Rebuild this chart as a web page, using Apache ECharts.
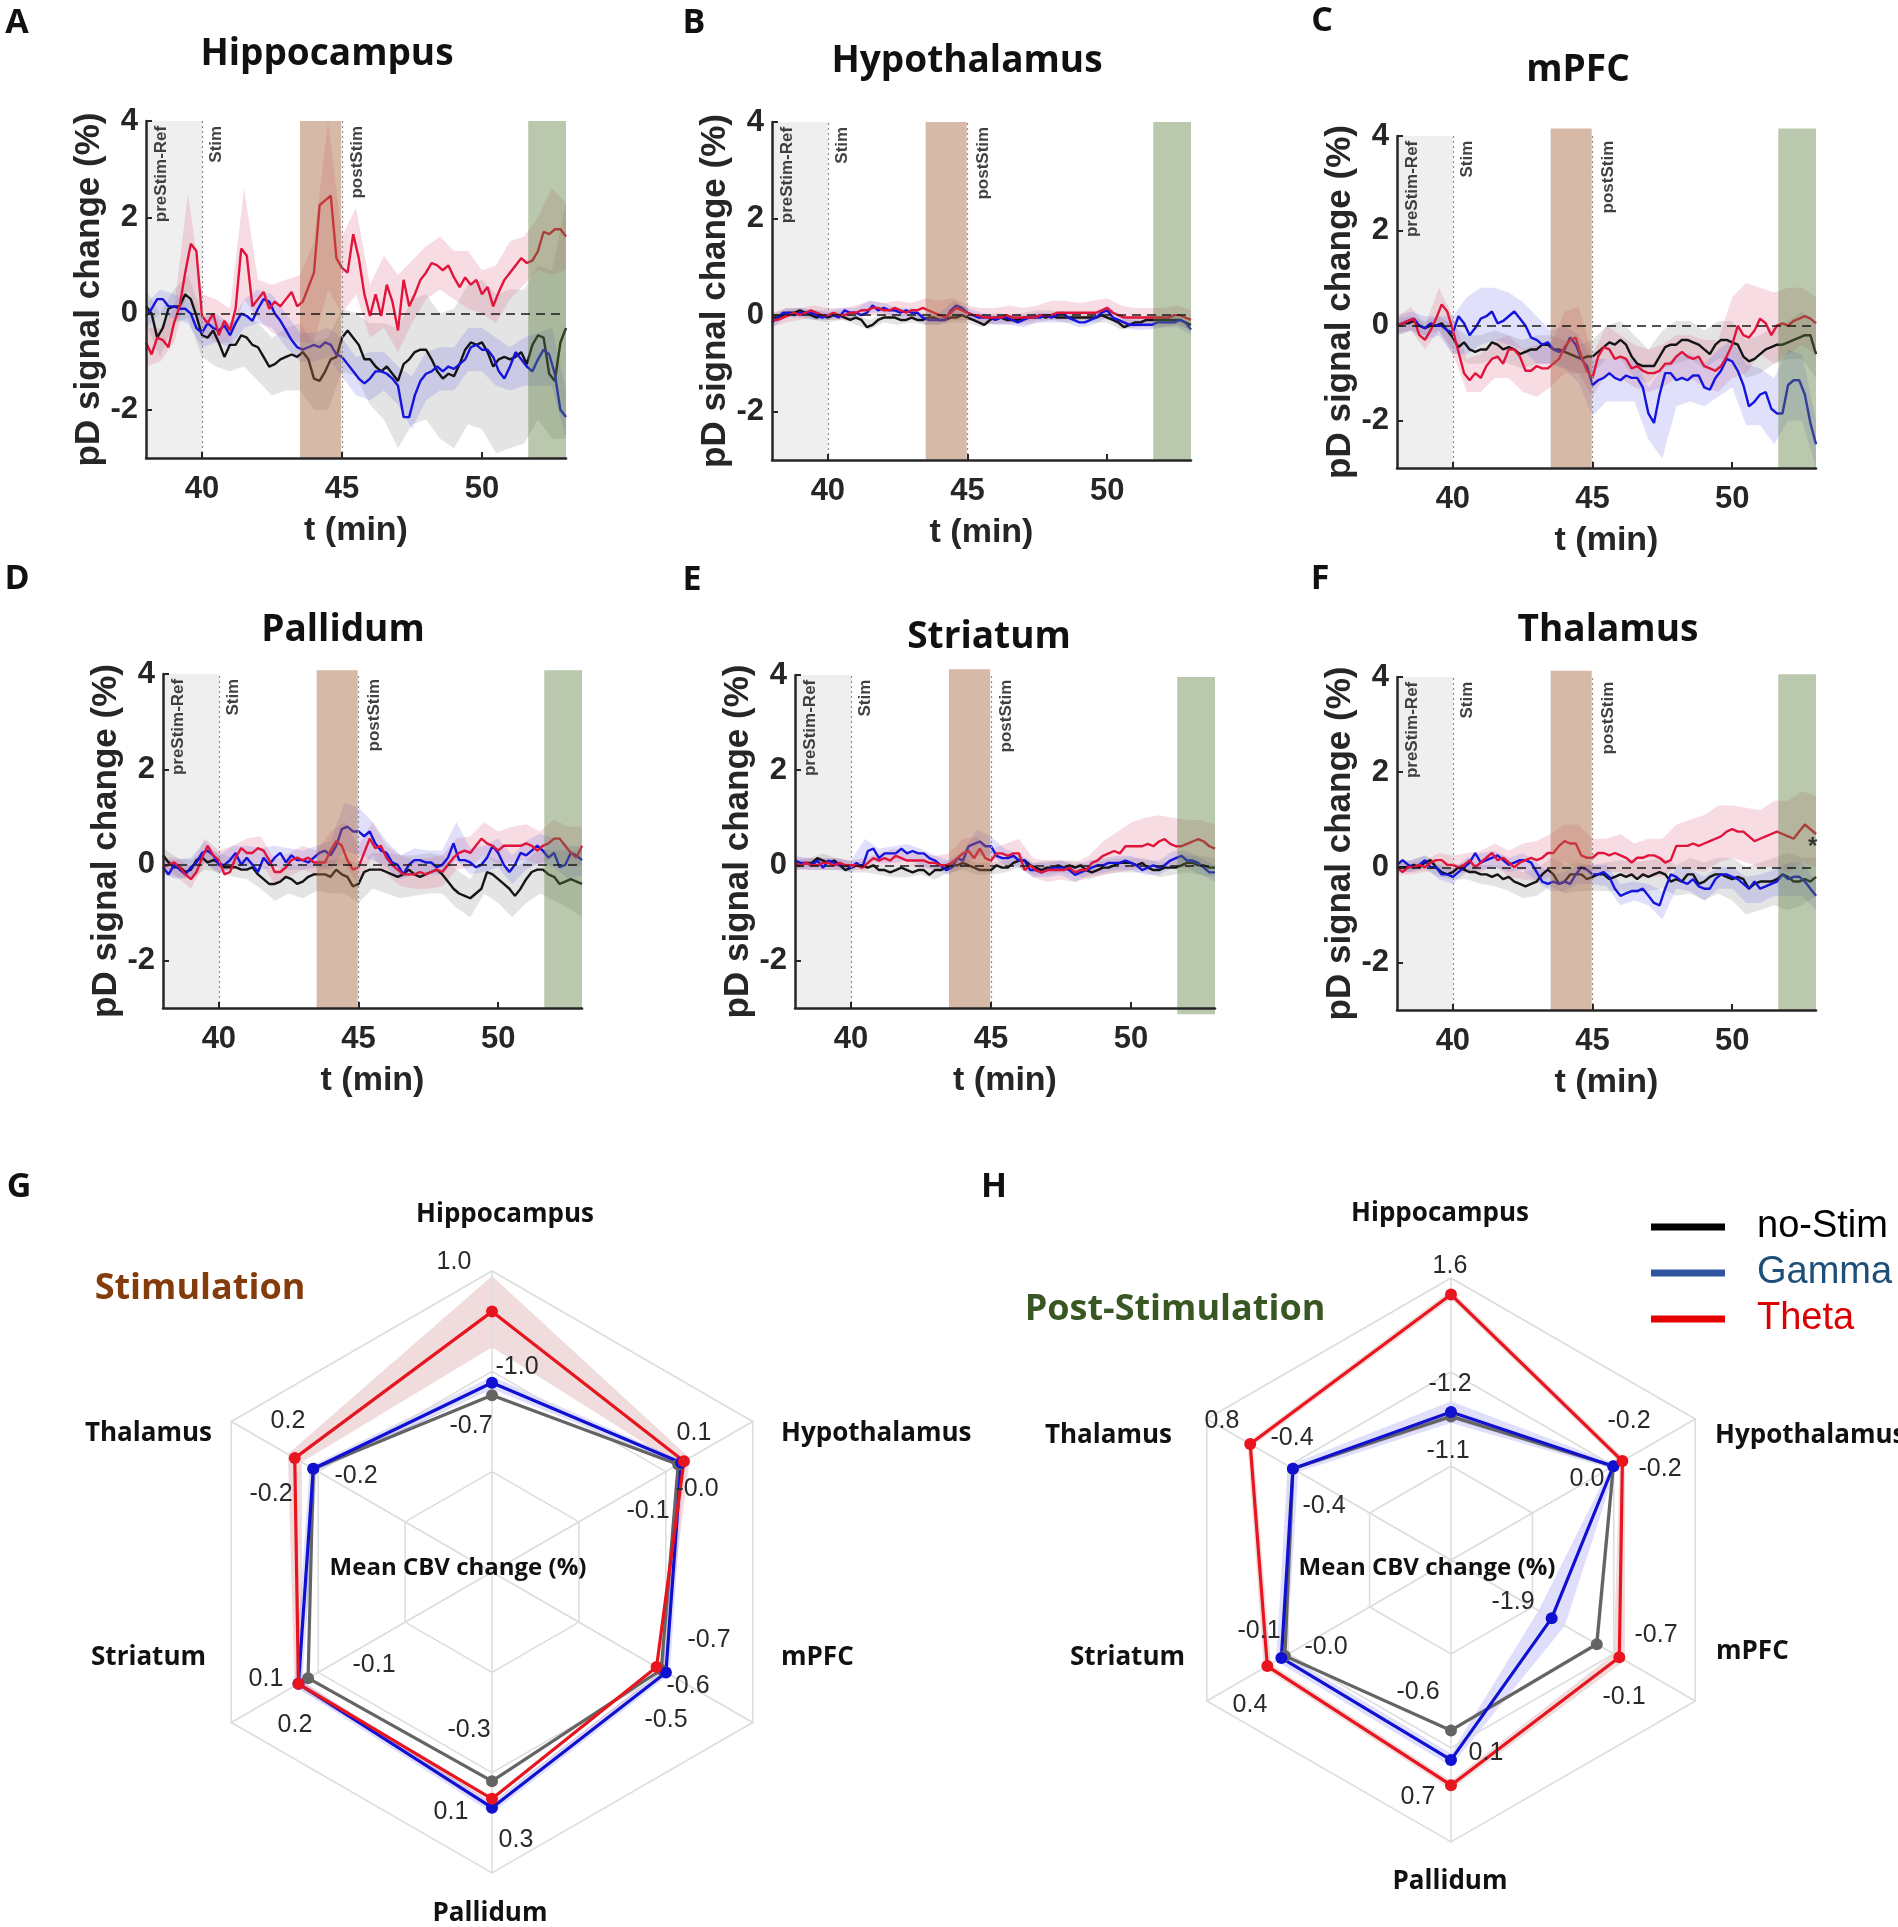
<!doctype html>
<html>
<head>
<meta charset="UTF-8">
<script src="https://cdn.jsdelivr.net/npm/echarts@6.0.0/dist/echarts.min.js"></script>
<style>
  html, body { margin: 0; padding: 0; background: #fff; }
  #main { width: 1898px; height: 1927px; }
</style>
</head>
<body>
<div id="main"></div>
<script type="text/javascript">

// time axis of the traces (min) and of the SEM envelopes
var t = [38,38.2,38.4,38.6,38.8,39,39.2,39.4,39.6,39.8,40,40.2,40.4,40.6,40.8,41,41.2,41.4,41.6,41.8,
  42,42.2,42.4,42.6,42.8,43,43.2,43.4,43.6,43.8,44,44.2,44.4,44.6,44.8,45,45.2,45.4,45.6,45.8,
  46,46.2,46.4,46.6,46.8,47,47.2,47.4,47.6,47.8,48,48.2,48.4,48.6,48.8,49,49.2,49.4,49.6,49.8,
  50,50.2,50.4,50.6,50.8,51,51.2,51.4,51.6,51.8,52,52.2,52.4,52.6,52.8,53];
var tb = [38,38.5,39,39.5,40,40.5,41,41.5,42,42.5,43,43.5,44,44.5,45,45.5,46,46.5,47,47.5,48,48.5,49,49.5,50,50.5,51,51.5,52,52.5,53];
var xTicks = [40, 45, 50];
var yTicks = [-2, 0, 2, 4];

// A Hippocampus
var hipNo = [0.15,0,-0.5,-0.3,0.1,0.15,0.15,0.4,0.3,-0.05, -0.45,-0.5,-0.35,-0.6,-0.9,-0.65,-0.65,-0.45,-0.5,-0.65,
  -0.7,-0.9,-1.1,-1.05,-0.95,-0.9,-0.85,-0.9,-0.8,-0.95, -1.35,-1.4,-1.2,-0.95,-0.9,-0.5,-0.35,-0.5,-0.65,-0.95,
  -0.95,-1.1,-1.2,-1.1,-1.25,-1.4,-1.05,-0.95,-0.8,-0.75, -0.75,-0.95,-1.2,-1.35,-1.25,-1.3,-1.05,-0.75,-0.6,-0.65,
  -0.6,-0.8,-1.1,-0.95,-0.9,-0.95,-0.9,-0.8,-1.05,-0.65, -0.45,-0.5,-1.25,-1.4,-0.6,-0.3];
var hipGa = [-0.05,0.1,0.3,0.3,0.15,0.15,0.1,0.1,0,-0.3, -0.4,-0.2,-0.3,-0.35,-0.25,-0.45,-0.2,0,-0.05,-0.15,
  0.1,0.3,0.25,0,-0.15,-0.35,-0.55,-0.7,-0.75,-0.7, -0.65,-0.7,-0.6,-0.65,-0.85,-0.9,-1.05,-1.2,-1.35,-1.45,
  -1.35,-1.2,-1.2,-1.25,-1.35,-1.5,-2.15,-2.15,-1.7,-1.4, -1.25,-1.2,-1.1,-1.2,-1.1,-1.15,-1.05,-0.95,-0.7,-0.65,
  -0.75,-0.75,-0.9,-1.2,-1.35,-1.1,-0.8,-0.95,-1.1,-1.2, -0.95,-0.75,-0.85,-1.25,-2,-2.15];
var hipTh = [-0.6,-0.85,-0.5,-0.55,-0.7,-0.2,0.15,0.85,1.45,1.3, -0.05,-0.2,0,-0.45,-0.15,-0.35,0.1,1.35,1.2,0.15,
  0.3,0.45,0.1,0.25,0.15,0.3,0.45,0.15,0.25,0.55, 0.85,2.25,2.35,2.45,1.15,0.95,0.85,1.65,1.15,0.4,
  -0.05,0.4,-0.05,0.6,0.25,-0.35,0.7,0.15,0.4,0.7, 0.85,1.05,1,0.9,1,0.75,0.55,0.75,0.6,0.7,
  0.4,0.55,0.15,0.45,0.7,0.85,1,1.15,1.05,1.1, 1.3,1.7,1.65,1.75,1.75,1.6];
var hipNoBand = [[-0.2,0.5],[-0.9,0],[-0.2,0.5],[-0.1,0.8],[-0.9,0],[-1.1,-0.1],[-1.2,-0.2],[-1.1,0],[-1.4,-0.2],[-1.7,-0.5],
  [-1.6,-0.3],[-1.6,-0.2],[-2,-0.6],[-2,-0.5],[-1.2,0.1],[-1.3,0],[-1.9,-0.2],[-2.2,-0.2],[-2.8,-0.3],[-2.3,0.3],
  [-2.2,0.4],[-2.6,0],[-2.8,0.1],[-2.3,0.6],[-2.4,0.7],[-2.9,0.4],[-2.8,0.5],[-2.7,0.5],[-2.2,1],[-2.6,0.9],[-2.6,2.3]];
var hipGaBand = [[-0.3,0.2],[0,0.5],[-0.1,0.4],[-0.2,0.3],[-0.7,-0.1],[-0.6,0],[-0.7,-0.2],[-0.3,0.3],[-0.2,0.5],[-0.3,0.4],
  [-0.7,0],[-1,-0.4],[-1,-0.4],[-0.9,-0.3],[-1.3,-0.5],[-1.7,-0.9],[-1.8,-0.8],[-1.6,-0.8],[-1.9,-1.1],[-2.4,-1.3],
  [-1.8,-0.8],[-1.6,-0.7],[-1.6,-0.7],[-1.2,-0.3],[-1.2,-0.3],[-1.5,-0.5],[-1.6,-0.7],[-1.5,-0.5],[-1.5,-0.4],[-1.5,-0.3],[-2.6,-1.6]];
var hipThBand = [[-1.1,-0.3],[-1,-0.3],[-0.6,0.1],[0.5,2.5],[-0.4,0.4],[-0.6,0.3],[-0.6,0.1],[0.3,2.6],[-0.1,0.7],[-0.4,0.6],
  [-0.5,0.7],[-0.6,0.8],[-0.6,1.5],[0.5,4],[0,1.6],[0.4,2.2],[-0.5,0.6],[-0.3,1.2],[-0.8,0.8],[-0.2,1.1],
  [0.3,1.4],[0.5,1.6],[0.3,1.3],[0.1,1.3],[0,0.9],[-0.2,1],[0.3,1.5],[0.6,1.6],[0.9,2],[0.8,2.6],[0.9,2.3]];

// B Hypothalamus
var hypNo = [-0.05,-0.05,0,0.05,0.05,0.1,0.05,0,-0.05,0, -0.05,0,0,-0.05,-0.1,-0.05,-0.1,-0.25,-0.2,-0.1,
  -0.05,-0.05,-0.05,-0.1,-0.1,-0.05,-0.1,-0.1,-0.05,-0.05, -0.1,-0.1,-0.05,-0.05,0,-0.05,-0.1,-0.15,-0.2,-0.1,
  -0.05,-0.05,-0.1,-0.1,-0.1,-0.05,-0.05,-0.05,0,-0.05, 0,-0.05,-0.05,-0.05,-0.05,-0.05,-0.05,-0.05,-0.05,0,
  -0.05,-0.1,-0.15,-0.25,-0.2,-0.15,-0.15,-0.1,-0.1,-0.1, -0.1,-0.1,-0.1,-0.1,-0.15,-0.2];
var hypGa = [-0.15,-0.05,0.05,0.05,0,0.05,0.05,0.05,0,-0.05, 0,0,-0.05,0.1,0.05,0.05,0,0.05,0.2,0.1,
  0.15,0.1,0.1,0.05,0.1,0.05,0.05,-0.05,-0.1,-0.1, -0.1,-0.1,0.1,0.2,0.15,0.05,0,-0.05,-0.05,-0.05,
  -0.1,-0.05,-0.05,-0.1,-0.15,-0.1,-0.05,-0.05,-0.05,0, -0.05,0,0.05,-0.05,-0.1,-0.15,-0.15,-0.1,-0.05,0.05,
  0.1,-0.05,-0.1,-0.15,-0.2,-0.2,-0.2,-0.2,-0.2,-0.15, -0.15,-0.15,-0.15,-0.1,-0.15,-0.3];
var hypTh = [-0.1,-0.1,-0.05,0,0.05,0,0.05,0.1,0.05,0, 0,0.05,0,0,0.05,0.05,0.1,0.1,0.15,0.15,
  0.1,0.1,0.15,0.1,0.05,0.1,0.1,0.15,0.1,0.05, 0,-0.05,0.05,0.15,0.1,0.05,0,0,-0.05,-0.05,
  -0.05,-0.05,0,-0.05,-0.05,-0.05,-0.05,-0.05,0,0, 0,0.05,0.05,0.05,0.05,0.05,0.05,0.05,0.05,0.1,
  0.15,0.05,0,-0.05,-0.05,-0.05,-0.05,-0.05,-0.05,-0.05, -0.05,-0.05,0,0,-0.05,-0.1];
var hypNoBand = [[-0.15,0.05],[-0.05,0.1],[0,0.15],[-0.1,0.1],[-0.15,0.05],[-0.1,0.1],[-0.2,0],[-0.3,-0.1],[-0.15,0.05],[-0.2,0],
  [-0.15,0.05],[-0.2,0],[-0.2,0],[-0.15,0.05],[-0.15,0.05],[-0.25,-0.05],[-0.15,0.05],[-0.2,0],[-0.15,0.05],[-0.1,0.1],
  [-0.1,0.1],[-0.15,0.05],[-0.15,0.05],[-0.15,0.05],[-0.15,0.05],[-0.3,-0.1],[-0.25,-0.05],[-0.2,0],[-0.2,0],[-0.2,0],[-0.3,-0.1]];
var hypGaBand = [[-0.25,-0.05],[-0.05,0.15],[-0.05,0.15],[-0.1,0.1],[-0.1,0.1],[-0.05,0.15],[-0.05,0.15],[0.05,0.3],[0.05,0.25],[-0.05,0.15],
  [-0.05,0.15],[-0.2,0],[-0.2,0.05],[0,0.3],[-0.05,0.15],[-0.15,0.05],[-0.2,0],[-0.2,0],[-0.25,0],[-0.15,0.05],
  [-0.15,0.05],[-0.15,0.05],[-0.25,-0.05],[-0.2,0],[-0.05,0.2],[-0.25,-0.05],[-0.3,-0.1],[-0.3,-0.1],[-0.25,-0.05],[-0.25,0],[-0.4,-0.2]];
var hypThBand = [[-0.25,0.05],[-0.15,0.15],[-0.1,0.15],[-0.05,0.2],[-0.1,0.15],[-0.1,0.15],[-0.05,0.2],[0,0.3],[0,0.25],[0,0.3],
  [-0.05,0.25],[0,0.35],[-0.15,0.3],[-0.1,0.35],[-0.1,0.2],[-0.15,0.15],[-0.2,0.15],[-0.15,0.2],[-0.2,0.15],[-0.15,0.2],
  [-0.1,0.3],[-0.1,0.3],[-0.1,0.25],[-0.1,0.3],[-0.05,0.35],[-0.25,0.2],[-0.25,0.15],[-0.25,0.15],[-0.25,0.15],[-0.2,0.2],[-0.3,0.1]];

// C mPFC
var pfcNo = [0,0.05,0.05,0.1,0,-0.05,0,0,0.05,-0.1, -0.25,-0.45,-0.35,-0.5,-0.55,-0.5,-0.5,-0.35,-0.4,-0.5,
  -0.45,-0.5,-0.6,-0.55,-0.5,-0.5,-0.4,-0.4,-0.5,-0.5, -0.55,-0.6,-0.65,-0.7,-0.65,-0.65,-0.55,-0.45,-0.35,-0.4,
  -0.3,-0.4,-0.65,-0.8,-0.85,-0.85,-0.85,-0.65,-0.45,-0.4, -0.4,-0.3,-0.3,-0.35,-0.4,-0.5,-0.6,-0.4,-0.3,-0.3,
  -0.35,-0.4,-0.65,-0.75,-0.7,-0.6,-0.5,-0.45,-0.4,-0.4, -0.35,-0.3,-0.25,-0.2,-0.2,-0.6];
var pfcGa = [0,0.05,0.1,0.15,0,-0.05,0.05,0,0,-0.1, -0.15,0.2,0.05,-0.2,-0.05,0.15,0.2,0.3,0.05,0.1,
  0.2,0.3,0.15,0,-0.25,-0.3,-0.4,-0.35,-0.5,-0.55, -0.5,-0.25,-0.4,-0.7,-0.85,-1.25,-1.15,-1.1,-1,-1.1,
  -1.15,-1.05,-1.1,-1.1,-1.3,-1.85,-2.05,-1.45,-1,-1, -1.15,-1.1,-1.15,-1.05,-1.05,-1.3,-1.35,-1.1,-0.95,-0.7,
  -0.75,-0.95,-1.25,-1.7,-1.6,-1.45,-1.4,-1.75,-1.85,-1.85, -1.25,-1.15,-1.15,-1.45,-2.05,-2.5];
var pfcTh = [0,0.05,0.1,0.15,-0.2,-0.3,-0.1,0.15,0.45,0.3, -0.1,-0.55,-1,-1.15,-1,-1.1,-0.85,-0.7,-0.65,-0.8,
  -0.5,-0.5,-0.65,-0.95,-0.95,-0.85,-0.9,-0.9,-0.8,-0.7, -0.45,-0.3,-0.25,-0.65,-0.95,-1.1,-0.65,-0.45,-0.5,-0.7,
  -0.65,-0.7,-0.9,-0.85,-0.95,-1,-1,-0.95,-0.8,-0.8, -0.65,-0.55,-0.65,-0.7,-0.65,-0.85,-0.9,-0.95,-0.85,-0.65,
  -0.4,0,-0.2,-0.25,-0.1,0.15,0.05,-0.2,0,0.05, 0,0.1,0.15,0.2,0.15,0.05];
var pfcNoBand = [[-0.15,0.15],[-0.1,0.2],[-0.2,0.1],[-0.1,0.2],[-0.5,0],[-0.8,-0.2],[-0.8,-0.2],[-0.7,-0.1],[-0.8,-0.2],[-0.9,-0.3],
  [-0.8,-0.2],[-0.8,-0.2],[-0.9,-0.3],[-1,-0.4],[-1,-0.3],[-0.7,0],[-0.7,0.1],[-1.1,-0.2],[-1.2,-0.5],[-0.9,-0.1],
  [-0.8,0.1],[-0.7,0.1],[-0.9,-0.1],[-0.7,0.1],[-0.7,0.1],[-1.1,-0.3],[-1,-0.2],[-0.8,0],[-0.7,0.1],[-0.7,0.3],[-1.1,0]];
var pfcGaBand = [[-0.2,0.2],[-0.1,0.3],[-0.3,0.2],[-0.2,0.2],[-0.6,0.2],[-0.6,0.6],[-0.4,0.8],[-0.3,0.8],[-0.4,0.7],[-0.5,0.5],
  [-0.8,0.2],[-0.8,-0.1],[-0.9,0],[-1.2,-0.2],[-1.9,-0.7],[-1.6,-0.7],[-1.6,-0.7],[-1.6,-0.7],[-2.4,-1.3],[-2.8,-0.9],
  [-1.7,-0.6],[-1.6,-0.6],[-1.7,-0.8],[-1.5,-0.5],[-1.3,-0.3],[-2.1,-0.8],[-2.1,-0.9],[-2.5,-1.1],[-2,-0.5],[-2,-0.6],[-3,-2]];
var pfcThBand = [[-0.2,0.2],[-0.1,0.4],[-0.5,0],[-0.1,0.8],[-0.6,0.2],[-1.4,-0.7],[-1.4,-0.6],[-1.1,-0.3],[-1.1,-0.2],[-1.4,-0.5],
  [-1.5,-0.4],[-1.3,-0.4],[-1,0.3],[-1,0.4],[-1.5,-0.6],[-1,0],[-1.1,-0.2],[-1.3,-0.4],[-1.4,-0.5],[-1.3,-0.4],
  [-1.1,-0.2],[-1.1,-0.2],[-1.3,-0.3],[-1.4,-0.3],[-1.1,0.6],[-1,0.9],[-0.6,0.8],[-0.8,0.7],[-0.6,0.8],[-0.4,0.8],[-0.6,0.6]];

// D Pallidum
var palNo = [0.2,0.05,-0.05,-0.05,-0.15,-0.1,0.1,0.15,0.05,0.1, 0.05,-0.05,-0.05,-0.05,-0.1,-0.1,-0.05,-0.2,-0.3,-0.4,
  -0.4,-0.35,-0.25,-0.3,-0.4,-0.35,-0.25,-0.2,-0.2,-0.2, -0.25,-0.1,-0.2,-0.25,-0.45,-0.4,-0.15,-0.1,-0.1,-0.1,
  -0.15,-0.2,-0.25,-0.2,-0.1,-0.2,-0.25,-0.2,-0.15,-0.1, -0.2,-0.35,-0.5,-0.6,-0.65,-0.7,-0.6,-0.5,-0.15,-0.2,
  -0.3,-0.4,-0.5,-0.65,-0.5,-0.3,-0.15,-0.1,-0.1,-0.2, -0.25,-0.4,-0.35,-0.3,-0.35,-0.4];
var palGa = [-0.05,-0.2,0,-0.1,-0.2,-0.05,0.05,0.25,0.3,0.2, 0,0,0.1,0.25,0,0.15,0,-0.15,0.15,0,
  0.15,0.25,0.05,0.2,0.1,0.1,0.05,0.15,0.25,0.3, 0.2,0.4,0.75,0.8,0.7,0.7,0.6,0.7,0.45,0.3,
  0.25,0.05,0,-0.2,0,0.1,0.1,0.05,0.05,-0.05, 0,0.15,0.45,0.1,0.1,0.05,-0.05,0,0.15,0.4,
  0.25,0,-0.15,0,0.25,0.2,0.3,0.4,0.3,0.15, 0.25,-0.05,0,0.25,0.2,0.1];
var palTh = [-0.05,0,0.05,-0.05,-0.2,-0.3,-0.15,0.15,0.4,0.2, 0.1,-0.2,-0.15,0.15,0.35,0.25,0.25,0.35,0.3,0.1,
  -0.15,-0.15,-0.05,0.1,0.15,0.1,0.15,0.05,0.05,0.05, 0.3,0.5,0.4,0.1,-0.1,-0.05,0.25,0.55,0.35,0.4,
  0.15,0,-0.1,-0.2,-0.2,-0.2,-0.15,-0.2,-0.15,-0.1, -0.15,0,0.15,0.25,0.3,0.25,0.4,0.55,0.45,0.4,
  0.3,0.4,0.4,0.4,0.4,0.45,0.4,0.3,0.4,0.45, 0.55,0.55,0.4,0.25,0.15,0.4];
var palNoBand = [[0,0.35],[-0.25,0.15],[-0.3,0.1],[-0.1,0.3],[-0.15,0.25],[-0.25,0.15],[-0.3,0.1],[-0.5,0],[-0.75,-0.1],[-0.6,0],
  [-0.7,0],[-0.55,0.1],[-0.6,0.1],[-0.6,0.15],[-0.8,0],[-0.5,0.25],[-0.6,0.25],[-0.7,0.2],[-0.65,0.2],[-0.6,0.25],
  [-0.6,0.2],[-0.9,-0.1],[-1.1,-0.3],[-0.6,0.2],[-0.8,0.1],[-1.1,-0.1],[-0.8,0.1],[-0.6,0.35],[-0.75,0.3],[-0.9,0.3],[-1.1,0.3]];
var palGaBand = [[-0.2,0.1],[-0.3,0.1],[-0.25,0.15],[0.05,0.5],[-0.2,0.2],[-0.05,0.4],[-0.1,0.4],[-0.1,0.35],[-0.05,0.4],[-0.1,0.35],
  [-0.1,0.3],[-0.05,0.4],[-0.1,0.5],[0.3,1.3],[0.2,1.2],[0.1,0.9],[-0.05,0.5],[-0.3,0.2],[-0.2,0.35],[-0.2,0.3],
  [-0.2,0.3],[0.1,0.9],[-0.2,0.35],[-0.15,0.4],[-0.05,0.55],[-0.4,0.2],[-0.1,0.5],[0.05,0.65],[-0.05,0.55],[-0.3,0.4],[-0.2,0.4]];
var palThBand = [[-0.2,0.15],[-0.25,0.15],[-0.5,-0.05],[0.05,0.55],[-0.15,0.3],[-0.1,0.4],[0,0.55],[0.05,0.6],[-0.4,0.1],[-0.25,0.25],
  [-0.1,0.4],[-0.2,0.3],[0,0.7],[0,0.9],[-0.4,0.4],[0.2,0.9],[-0.2,0.4],[-0.45,0.2],[-0.5,0.1],[-0.5,0.15],
  [-0.45,0.2],[-0.1,0.55],[-0.05,0.6],[0.2,0.9],[0,0.7],[0.05,0.8],[0.1,0.85],[0,0.7],[0.15,0.95],[-0.05,0.8],[0,0.8]];

// E Striatum
var strNo = [0,0,0.05,0.05,0.15,0.1,0.05,0.1,0,-0.1, -0.05,0,0,-0.05,0,-0.1,-0.1,-0.15,-0.1,-0.05,
  -0.1,-0.15,-0.1,-0.1,-0.2,-0.1,-0.1,-0.05,0,0, 0.05,0,-0.05,-0.1,-0.1,-0.1,0,-0.05,-0.05,0.05,
  0.1,0.1,0,-0.05,-0.1,-0.05,-0.05,0,-0.05,0, -0.05,0,-0.1,-0.15,-0.1,-0.05,-0.05,0,0.05,0.05,
  0.05,0,0.05,-0.05,-0.1,-0.1,-0.05,-0.05,-0.05,0, 0.05,0.05,0,0,-0.05,-0.05];
var strGa = [0.1,0.05,0.05,0,0.1,-0.05,0.1,0.05,0,0, -0.05,0.05,-0.05,0.3,0.35,0.15,0.25,0.25,0.25,0.35,
  0.25,0.3,0.25,0.25,0.15,0.1,0,-0.1,-0.05,0.15, 0.1,0.4,0.45,0.5,0.4,0.4,0.2,0.15,0.15,0.2,
  0.1,0.1,-0.1,-0.1,-0.15,-0.1,-0.05,-0.05,-0.05,-0.1, -0.2,-0.15,-0.1,-0.05,0,0,0.05,0.05,0.05,0.1,
  0.05,0,-0.1,-0.05,0,-0.05,0,0.1,0.15,0.2, 0.1,0.1,0.05,-0.05,-0.15,-0.15];
var strTh = [0.05,0,0.05,0,0,0.05,0.05,0,0.05,0, 0,0,-0.05,0.05,0.15,0.1,0.15,0.1,0.2,0.15,
  0.1,0.1,0.1,0.1,0.05,0.05,0,0,0.05,0.15, 0.25,0.3,0.15,0.35,0.15,0.1,0.25,0.25,0.2,0.25,
  0.25,-0.1,0,-0.1,-0.15,-0.1,-0.1,-0.1,-0.1,-0.05, -0.15,-0.1,-0.1,0.05,0.1,0.2,0.25,0.3,0.25,0.4,
  0.4,0.4,0.4,0.45,0.4,0.5,0.55,0.45,0.4,0.4, 0.45,0.5,0.55,0.5,0.4,0.35];
var strNoBand = [[-0.1,0.1],[-0.05,0.15],[0,0.25],[-0.05,0.15],[-0.15,0.05],[-0.15,0.1],[-0.2,0],[-0.25,0],[-0.25,0],[-0.2,0.05],
  [-0.3,0],[-0.15,0.1],[-0.1,0.15],[-0.2,0.05],[-0.2,0.05],[-0.15,0.1],[-0.05,0.2],[-0.2,0.05],[-0.2,0.1],[-0.15,0.1],
  [-0.2,0.1],[-0.3,0],[-0.2,0.1],[-0.15,0.15],[-0.15,0.15],[-0.15,0.15],[-0.25,0.05],[-0.2,0.1],[-0.15,0.2],[-0.2,0.2],[-0.25,0.15]];
var strGaBand = [[-0.05,0.2],[-0.1,0.15],[-0.1,0.15],[-0.1,0.15],[-0.15,0.1],[0.1,0.55],[0.05,0.35],[0.05,0.4],[0.1,0.45],[0,0.35],
  [-0.1,0.2],[-0.2,0.1],[-0.05,0.3],[0.2,0.75],[0.2,0.6],[0,0.35],[-0.05,0.25],[-0.25,0.05],[-0.25,0.05],[-0.2,0.1],
  [-0.35,0],[-0.2,0.1],[-0.15,0.15],[-0.1,0.2],[-0.1,0.2],[-0.2,0.1],[-0.2,0.1],[-0.05,0.3],[-0.05,0.3],[-0.2,0.15],[-0.35,0]];
var strThBand = [[-0.1,0.15],[-0.1,0.15],[-0.1,0.15],[-0.1,0.15],[-0.1,0.1],[-0.1,0.15],[0,0.25],[0,0.35],[0,0.3],[-0.05,0.25],
  [-0.1,0.2],[-0.1,0.25],[0,0.55],[-0.05,0.6],[-0.05,0.35],[0,0.45],[0,0.55],[-0.25,0.15],[-0.35,0.1],[-0.3,0.1],
  [-0.35,0.05],[-0.25,0.2],[-0.2,0.5],[-0.15,0.7],[-0.1,0.9],[-0.05,1],[0,1.05],[0,1],[-0.05,0.95],[0.05,0.95],[-0.1,0.85]];

// F Thalamus
var thaNo = [0,0,0,0.05,0,0.1,0.15,0,-0.1,-0.15, -0.1,0,-0.05,-0.1,-0.1,-0.15,-0.15,-0.2,-0.15,-0.25,
  -0.2,-0.3,-0.35,-0.4,-0.35,-0.3,-0.15,-0.05,-0.15,-0.35, -0.3,-0.15,-0.15,-0.15,-0.25,-0.2,-0.15,-0.15,-0.25,-0.2,
  -0.15,-0.2,-0.15,-0.25,-0.15,-0.2,-0.15,-0.1,-0.15,-0.3, -0.25,-0.3,-0.15,-0.15,-0.35,-0.3,-0.2,-0.15,-0.15,-0.2,
  -0.25,-0.2,-0.25,-0.45,-0.35,-0.3,-0.3,-0.3,-0.25,-0.15, -0.2,-0.3,-0.3,-0.25,-0.3,-0.2];
var thaGa = [0.05,0.15,0.05,0,0.05,0.15,0,0,-0.15,-0.15, -0.2,-0.1,0,0.1,0.3,0.1,0.15,0.2,0.25,0.15,
  0.05,0.1,0.15,0.15,0.1,-0.1,-0.3,-0.35,-0.3,-0.35, -0.3,-0.35,-0.15,0,-0.05,-0.15,-0.15,-0.1,-0.2,-0.45,
  -0.6,-0.55,-0.5,-0.5,-0.45,-0.6,-0.75,-0.8,-0.45,-0.15, -0.2,-0.3,-0.35,-0.25,-0.4,-0.45,-0.45,-0.25,-0.15,-0.15,
  -0.2,-0.25,-0.35,-0.45,-0.3,-0.45,-0.4,-0.35,-0.3,-0.15, -0.25,-0.2,-0.2,-0.3,-0.45,-0.6];
var thaTh = [0,-0.1,0,0,0.05,0,0.1,0.15,0.15,0.05, 0.05,0,0.05,0.15,0,0.1,0.2,0.3,0.15,0.2,
  0.1,0,0.1,0.15,0.2,0.15,0.2,0.3,0.3,0.45, 0.55,0.5,0.5,0.25,0.2,0.2,0.3,0.3,0.25,0.3,
  0.25,0.2,0.1,0.2,0.2,0.25,0.25,0.2,0.1,0.15, 0.45,0.45,0.45,0.5,0.45,0.5,0.55,0.6,0.65,0.75,
  0.8,0.75,0.75,0.65,0.55,0.6,0.65,0.7,0.75,0.7, 0.65,0.6,0.75,0.9,0.8,0.7];
var thaNoBand = [[-0.1,0.1],[-0.1,0.15],[-0.05,0.25],[-0.2,0.1],[-0.25,0.05],[-0.25,0.1],[-0.35,0.05],[-0.4,0.05],[-0.5,0],[-0.65,-0.1],
  [-0.6,-0.05],[-0.4,0.2],[-0.55,0.05],[-0.5,0.1],[-0.5,0.05],[-0.5,0.1],[-0.5,0.15],[-0.55,0.1],[-0.5,0.15],[-0.45,0.2],
  [-0.6,0.05],[-0.55,0.2],[-0.7,0.1],[-0.55,0.2],[-0.7,0.2],[-1,0],[-0.9,0.1],[-0.8,0.2],[-0.9,0.3],[-0.8,0.2],[-0.6,0.2]];
var thaGaBand = [[-0.1,0.15],[-0.1,0.15],[0,0.25],[-0.25,0.05],[-0.35,-0.05],[-0.1,0.2],[-0.05,0.3],[0,0.35],[-0.1,0.2],[-0.05,0.3],
  [-0.3,0.1],[-0.5,-0.15],[-0.5,-0.1],[-0.35,0.05],[-0.35,0.05],[-0.4,0.05],[-0.8,-0.35],[-0.7,-0.3],[-0.8,-0.35],[-1.1,-0.5],
  [-0.45,0],[-0.5,-0.05],[-0.7,-0.2],[-0.45,0],[-0.45,0],[-0.75,-0.2],[-0.75,-0.15],[-0.6,-0.05],[-0.6,0.1],[-0.6,0.1],[-0.9,-0.3]];
var thaThBand = [[-0.15,0.1],[-0.15,0.1],[-0.1,0.15],[0,0.3],[-0.15,0.25],[-0.1,0.3],[-0.1,0.35],[0.05,0.5],[-0.2,0.35],[-0.25,0.5],
  [-0.3,0.55],[-0.2,0.7],[0.1,0.9],[0,0.9],[-0.15,0.6],[-0.1,0.6],[-0.1,0.7],[-0.25,0.5],[-0.2,0.6],[-0.2,0.6],
  [0,0.9],[-0.05,1],[-0.1,1.1],[0.1,1.3],[0.2,1.3],[0.1,1.25],[0,1.2],[0,1.4],[-0.1,1.4],[0.1,1.6],[0,1.5]];

// epoch windows (min) and their labels
var preWin = [38, 40];
var stimWin = [43.5, 44.97];
var postWin = [51.65, 53];
var epochNotes = [[38.55, 3.9, 'preStim-Ref'], [40.5, 3.9, 'Stim'], [45.55, 3.9, 'postStim']];

// G / H radar: mean CBV change (%) per region, indicator order = ECharts counter-clockwise from top
var radarRegions = ['Hippocampus', 'Thalamus', 'Striatum', 'Pallidum', 'mPFC', 'Hypothalamus'];
var stimMin = [-5.22, -4.06, -3.91, -5.04, -4.21, -6.6];
var stimMax = [1.97, 1.57, 1.49, 1.78, 1.35, 2.5];
var stimNoStim = [-1.0, -0.2, -0.1, -0.3, -0.6, -0.1];
var stimGamma = [-0.7, -0.2, 0.1, 0.3, -0.5, 0.0];
var stimTheta = [1.0, 0.2, 0.1, 0.1, -0.7, 0.1];
var stimNoStimSem = [0.1, 0.05, 0.08, 0.06, 0.05, 0.05];
var stimGammaSem = [0.15, 0.08, 0.08, 0.12, 0.08, 0.1];
var stimThetaSem = [0.85, 0.15, 0.08, 0.1, 0.15, 0.2];
var postMin = [-4.5, -4.84, -4.82, -4.65, -4.58, -3.79];
var postMax = [1.98, 2.02, 2.12, 2.05, 1.92, 1.61];
var postNoStim = [-1.2, -0.4, -0.1, -0.6, -0.7, -0.2];
var postGamma = [-1.1, -0.4, 0.0, 0.1, -1.9, -0.2];
var postTheta = [1.6, 0.8, 0.4, 0.7, -0.1, 0.0];
var postNoStimSem = [0.06, 0.05, 0.05, 0.05, 0.05, 0.04];
var postGammaSem = [0.25, 0.15, 0.15, 0.15, 0.35, 0.08];
var postThetaSem = [0.1, 0.08, 0.1, 0.1, 0.15, 0.06];

// value annotations printed around the radar points
var stimNotes = [['1.0',454,1262],['-1.0',517,1367],['-0.7',471,1426],['0.2',288,1421],['-0.2',356,1476],['-0.2',271,1494],
  ['0.1',694,1433],['-0.0',697,1489],['-0.1',648,1511],['-0.7',709,1640],['-0.6',688,1686],['-0.5',666,1720],
  ['0.1',266,1679],['0.2',295,1725],['-0.1',374,1665],['-0.3',469,1730],['0.1',451,1812],['0.3',516,1840]];
var postNotes = [['1.6',1450,1266],['-1.2',1450,1384],['-1.1',1448,1451],['0.8',1222,1421],['-0.4',1292,1438],['-0.4',1324,1506],
  ['-0.2',1629,1421],['-0.2',1660,1469],['0.0',1587,1479],['-1.9',1513,1602],['-0.7',1656,1635],['-0.1',1624,1697],
  ['-0.1',1259,1631],['-0.0',1326,1647],['0.4',1250,1705],['-0.6',1418,1692],['0.1',1486,1753],['0.7',1418,1797]];
var stimNames = [['Hippocampus',505,1215,'center'],['Hypothalamus',781,1434,'left'],['mPFC',781,1658,'left'],
  ['Pallidum',490,1914,'center'],['Striatum',206,1658,'right'],['Thalamus',212,1434,'right']];
var postNames = [['Hippocampus',1440,1214,'center'],['Hypothalamus',1715,1436,'left'],['mPFC',1716,1652,'left'],
  ['Pallidum',1450,1882,'center'],['Striatum',1185,1658,'right'],['Thalamus',1172,1436,'right']];

var colNo = '#141414', colGa = '#1414dc', colTh = '#e1143c';
var axisColor = '#262626';
var sans = 'Liberation Sans';
var titleFont = '"Open Sans"';

var panels = [
  {letter:'A', title:'Hippocampus', titleAt:[327,54], letterAt:[17,23], box:[146,121,420,337],
    no:hipNo, ga:hipGa, th:hipTh, noBand:hipNoBand, gaBand:hipGaBand, thBand:hipThBand, stimTop:4, postTop:4, postBottom:-3},
  {letter:'B', title:'Hypothalamus', titleAt:[967,61], letterAt:[694,23], box:[772,122,419,338],
    no:hypNo, ga:hypGa, th:hypTh, noBand:hypNoBand, gaBand:hypGaBand, thBand:hypThBand, stimTop:4, postTop:4, postBottom:-3},
  {letter:'C', title:'mPFC', titleAt:[1578,70], letterAt:[1322,21], box:[1397,136,419,332],
    no:pfcNo, ga:pfcGa, th:pfcTh, noBand:pfcNoBand, gaBand:pfcGaBand, thBand:pfcThBand, stimTop:4.16, postTop:4.16, postBottom:-3},
  {letter:'D', title:'Pallidum', titleAt:[343,630], letterAt:[17,579], box:[163,674,419,334],
    no:palNo, ga:palGa, th:palTh, noBand:palNoBand, gaBand:palGaBand, thBand:palThBand, stimTop:4.08, postTop:4.08, postBottom:-3},
  {letter:'E', title:'Striatum', titleAt:[989,637], letterAt:[692,580], box:[795,675,420,333],
    no:strNo, ga:strGa, th:strTh, noBand:strNoBand, gaBand:strGaBand, thBand:strThBand, stimTop:4.12, postTop:3.96, postBottom:-3.13},
  {letter:'F', title:'Thalamus', titleAt:[1608,630], letterAt:[1320,579], box:[1397,677,419,333],
    no:thaNo, ga:thaGa, th:thaTh, noBand:thaNoBand, gaBand:thaGaBand, thBand:thaThBand, stimTop:4.13, postTop:4.06, postBottom:-3}
];

function pairs(xs, ys) {
  return xs.map(function (x, i) { return [x, ys[i]]; });
}

// whole SEM envelope drawn as one polygon through the axis scales
function bandRender(xs, band) {
  return function (params, api) {
    if (params.dataIndex !== 0) return { type: 'group', children: [] };
    var pts = [];
    for (var i = 0; i < xs.length; i++) pts.push(api.coord([xs[i], band[i][1]]));
    for (var j = xs.length - 1; j >= 0; j--) pts.push(api.coord([xs[j], band[j][0]]));
    return { type: 'polygon', shape: { points: pts }, style: { fill: api.visual('color') } };
  };
}

function rectRender(params, api) {
  var a = api.coord([api.value(0), api.value(3)]);
  var b = api.coord([api.value(1), api.value(2)]);
  return { type: 'rect', shape: { x: a[0], y: a[1], width: b[0] - a[0], height: b[1] - a[1] },
    style: { fill: api.visual('color') } };
}

function txt(text, x, y, font, color, align) {
  return { type: 'text', x: x, y: y, z: 100, silent: true,
    style: { text: text, font: font, fill: color || '#111', textAlign: align || 'center', textVerticalAlign: 'middle' } };
}

var option = {
  animation: false,
  backgroundColor: '#fff',
  grid: [], xAxis: [], yAxis: [], series: [], radar: [],
  graphic: { elements: [] }
};

panels.forEach(function (p, i) {
  option.grid.push({ left: p.box[0], top: p.box[1], width: p.box[2], height: p.box[3] });
  option.xAxis.push({
    type: 'value', gridIndex: i, min: 38, max: 53, z: 5,
    axisLine: { onZero: false, lineStyle: { color: axisColor, width: 2.5 } },
    axisTick: { inside: true, length: 6, customValues: xTicks, lineStyle: { color: axisColor, width: 2 } },
    axisLabel: { customValues: xTicks, color: axisColor, fontSize: 31, fontWeight: 'bold', fontFamily: sans, margin: 16 },
    splitLine: { show: false },
    name: 't (min)', nameLocation: 'middle', nameGap: 56,
    nameTextStyle: { color: axisColor, fontSize: 34, fontWeight: 'bold', fontFamily: sans }
  });
  option.yAxis.push({
    type: 'value', gridIndex: i, min: -3, max: 4, z: 5,
    axisLine: { onZero: false, lineStyle: { color: axisColor, width: 2.5 } },
    axisTick: { inside: true, length: 6, customValues: yTicks, lineStyle: { color: axisColor, width: 2 } },
    axisLabel: { customValues: yTicks, color: axisColor, fontSize: 31, fontWeight: 'bold', fontFamily: sans, margin: 8 },
    splitLine: { show: false },
    name: 'pD signal change (%)', nameLocation: 'middle', nameGap: 37,
    nameTextStyle: { color: axisColor, fontSize: 35, fontWeight: 'bold', fontFamily: sans }
  });

  var ax = { xAxisIndex: i, yAxisIndex: i };
  // preStim reference window, behind everything
  option.series.push(Object.assign({
    type: 'custom', z: 0, silent: true, clip: false, renderItem: rectRender, encode: { x: [0, 1], y: [2, 3] },
    data: [{ value: [preWin[0], preWin[1], -3, 4], itemStyle: { color: '#efefef' } }]
  }, ax));
  // SEM envelopes
  [[p.noBand, 'rgba(120,120,120,0.2)'], [p.thBand, 'rgba(225,120,145,0.25)'], [p.gaBand, 'rgba(100,100,235,0.2)']]
    .forEach(function (b) {
      option.series.push(Object.assign({
        type: 'custom', z: 1, silent: true, clip: true, itemStyle: { color: b[1] },
        renderItem: bandRender(tb, b[0]), encode: { x: 0, y: [1, 2] },
        data: tb.map(function (x, k) { return [x, b[0][k][0], b[0][k][1]]; })
      }, ax));
    });
  // mean traces
  option.series.push(Object.assign({
    type: 'line', name: 'no-Stim trace', z: 2, silent: true, symbol: 'none', data: pairs(t, p.no),
    lineStyle: { color: colNo, width: 2.4 },
    markLine: {
      silent: true, symbol: ['none', 'none'], label: { show: false },
      data: [
        { yAxis: 0, lineStyle: { type: [9, 6], color: '#1a1a1a', width: 1.6 } },
        { xAxis: 40, lineStyle: { type: [2, 3], color: '#8a8a8a', width: 1.2 } },
        { xAxis: 45, lineStyle: { type: [2, 3], color: '#8a8a8a', width: 1.2 } }
      ]
    }
  }, ax));
  option.series.push(Object.assign({
    type: 'line', name: 'Gamma trace', z: 2, silent: true, symbol: 'none', data: pairs(t, p.ga),
    lineStyle: { color: colGa, width: 2.4 }
  }, ax));
  option.series.push(Object.assign({
    type: 'line', name: 'Theta trace', z: 2, silent: true, symbol: 'none', data: pairs(t, p.th),
    lineStyle: { color: colTh, width: 2.4 }
  }, ax));
  // stimulation and post-stimulation windows, translucent on top of the traces
  option.series.push(Object.assign({
    type: 'custom', z: 3, silent: true, clip: false, renderItem: rectRender, encode: { x: [0, 1], y: [2, 3] },
    data: [
      { value: [stimWin[0], stimWin[1], -3, p.stimTop], itemStyle: { color: 'rgba(166,100,60,0.45)' } },
      { value: [postWin[0], postWin[1], p.postBottom, p.postTop], itemStyle: { color: 'rgba(90,125,60,0.42)' } }
    ]
  }, ax));
  // rotated epoch labels
  option.series.push(Object.assign({
    type: 'scatter', z: 4, silent: true, symbolSize: 0, data: epochNotes,
    label: { show: true, position: [0, 0], rotate: 90, align: 'right', verticalAlign: 'middle',
      formatter: function (q) { return q.data[2]; },
      color: '#111', fontSize: 17, fontWeight: 'bold', fontFamily: sans }
  }, ax));

  option.graphic.elements.push(txt(p.title, p.titleAt[0], p.titleAt[1], 'bold 37px ' + titleFont, '#111'));
  option.graphic.elements.push(txt(p.letter, p.letterAt[0], p.letterAt[1], 'bold 34px ' + titleFont, '#111'));
});

// significance mark in F
option.series.push({
  type: 'scatter', xAxisIndex: 5, yAxisIndex: 5, z: 4, silent: true, symbolSize: 0, data: [[52.88, 0.42, '*']],
  label: { show: true, position: [0, 0], align: 'center', verticalAlign: 'middle', formatter: '*',
    color: '#111', fontSize: 24, fontWeight: 'bold', fontFamily: sans }
});

// radar charts G and H
function indicators(mins, maxs) {
  return radarRegions.map(function (n, k) { return { name: n, min: mins[k], max: maxs[k] }; });
}
function radarBox(center, radius, mins, maxs) {
  return {
    center: center, radius: radius, shape: 'polygon', startAngle: 90, splitNumber: 3, z: 2,
    indicator: indicators(mins, maxs),
    axisName: { show: false },
    axisLine: { lineStyle: { color: '#dcdcdc', width: 1.5 } },
    splitLine: { lineStyle: { color: '#dcdcdc', width: 1.5 } },
    splitArea: { show: false }
  };
}
option.radar.push(radarBox([492, 1572], 301, stimMin, stimMax));
option.radar.push(radarBox([1451, 1560], 282, postMin, postMax));

function plusMinus(v, s, sign) {
  return v.map(function (x, k) { return +(x + sign * s[k]).toFixed(3); });
}
function radarSeries(ri, no, ga, th, noS, gaS, thS) {
  // SEM bands: outer polygon tinted, inner polygon blanked
  [[th, thS, 'rgba(205,140,140,0.3)'], [no, noS, 'rgba(120,120,120,0.25)'], [ga, gaS, 'rgba(110,110,240,0.22)']]
    .forEach(function (b) {
      option.series.push({
        type: 'radar', radarIndex: ri, z: 1, silent: true, symbol: 'none',
        lineStyle: { width: 0, opacity: 0 },
        data: [
          { value: plusMinus(b[0], b[1], 1), areaStyle: { color: b[2], opacity: 1 } },
          { value: plusMinus(b[0], b[1], -1), areaStyle: { color: '#ffffff', opacity: 1 } }
        ]
      });
    });
  option.series.push({
    type: 'radar', radarIndex: ri, z: 3, silent: true, symbol: 'circle', symbolSize: 12,
    data: [
      { name: 'no-Stim', value: no, lineStyle: { color: '#646464', width: 3.2 }, itemStyle: { color: '#646464' } },
      { name: 'Gamma', value: ga, lineStyle: { color: '#1010d0', width: 3.2 }, itemStyle: { color: '#1010d0' } },
      { name: 'Theta', value: th, lineStyle: { color: '#e8141e', width: 3.2 }, itemStyle: { color: '#e8141e' } }
    ]
  });
}
radarSeries(0, stimNoStim, stimGamma, stimTheta, stimNoStimSem, stimGammaSem, stimThetaSem);
radarSeries(1, postNoStim, postGamma, postTheta, postNoStimSem, postGammaSem, postThetaSem);

option.legend = {
  left: 1646, top: 1202, orient: 'vertical', icon: 'rect', itemWidth: 74, itemHeight: 7, itemGap: 6,
  selectedMode: false,
  textStyle: { fontSize: 38, fontFamily: sans, lineHeight: 40, padding: [0, 0, 0, 27] },
  data: [
    { name: 'no-Stim', itemStyle: { color: '#000000' }, textStyle: { color: '#000000' } },
    { name: 'Gamma', itemStyle: { color: '#2f55a0' }, textStyle: { color: '#1f4e79' } },
    { name: 'Theta', itemStyle: { color: '#e60000' }, textStyle: { color: '#dc0000' } }
  ]
};

var g = option.graphic.elements;
g.push(txt('G', 19, 1187, 'bold 34px ' + titleFont, '#111'));
g.push(txt('H', 994, 1187, 'bold 34px ' + titleFont, '#111'));
g.push(txt('Stimulation', 200, 1289, 'bold 36px ' + titleFont, '#843c0c'));
g.push(txt('Post-Stimulation', 1175, 1310, 'bold 36px ' + titleFont, '#385723'));
g.push(txt('Mean CBV change (%)', 458, 1568, 'bold 24px ' + titleFont, '#111'));
g.push(txt('Mean CBV change (%)', 1427, 1568, 'bold 24px ' + titleFont, '#111'));
stimNames.concat(postNames).forEach(function (n) {
  g.push(txt(n[0], n[1], n[2], 'bold 26px ' + titleFont, '#111', n[3]));
});
stimNotes.concat(postNotes).forEach(function (n) {
  g.push(txt(n[0], n[1], n[2], '25px "' + sans + '"', '#2a2a2a'));
});

var myChart = echarts.init(document.getElementById('main'));
myChart.setOption(option);
</script>
</body>
</html>
